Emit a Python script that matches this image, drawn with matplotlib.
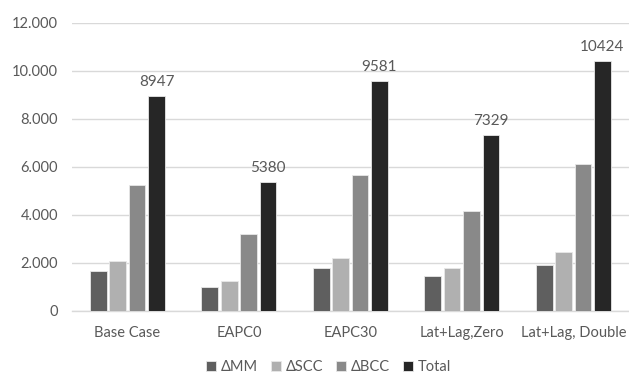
import matplotlib
matplotlib.use("Agg")
import matplotlib.pyplot as plt
import numpy as np

plt.rcParams['font.family'] = ['Lato', 'DejaVu Sans']

categories = ["Base Case", "EAPC0", "EAPC30", "Lat+Lag,Zero", "Lat+Lag, Double"]
series_names = ["ΔMM", "ΔSCC", "ΔBCC", "Total"]
d_mm = [1650, 970, 1760, 1420, 1890]
d_scc = [2050, 1220, 2180, 1760, 2440]
d_bcc = [5247, 3190, 5641, 4149, 6094]
total = [8947, 5380, 9581, 7329, 10424]
colors = ["#5f5f5f", "#b0b0b0", "#898989", "#262626"]
y_ticks = [0, 2000, 4000, 6000, 8000, 10000, 12000]
y_tick_labels = ["0", "2.000", "4.000", "6.000", "8.000", "10.000", "12.000"]

fig = plt.figure(figsize=(6.29, 3.75), dpi=100)
ax = fig.add_axes([0.114, 0.172, 0.886, 0.767])

x = np.arange(len(categories))
width = 0.15
pitch = 0.174
values = [d_mm, d_scc, d_bcc, total]
for i, (vals, name, c) in enumerate(zip(values, series_names, colors)):
    bars = ax.bar(x + (i - 1.5) * pitch, vals, width, color=c, label=name,
                  edgecolor="#e8e8e8", linewidth=0.6, zorder=3)
    if name == "Total":
        for b, v in zip(bars, vals):
            ax.annotate(f"{v}", (b.get_x() + b.get_width() / 2, v),
                        xytext=(0, 5), textcoords="offset points",
                        ha="center", va="bottom", fontsize=11, color="#595959")

ax.set_xlim(-0.5, len(categories) - 0.5)
ax.set_ylim(0, 12000)
ax.set_yticks(y_ticks)
ax.set_yticklabels(y_tick_labels)
ax.set_xticks(x)
ax.set_xticklabels(categories)
ax.tick_params(axis="both", length=0, labelsize=10.5, colors="#595959")
ax.tick_params(axis="x", pad=11)
ax.tick_params(axis="y", pad=10)
ax.grid(axis="y", color="#d9d9d9", linewidth=1, zorder=0)
for s in ["top", "right", "left"]:
    ax.spines[s].set_visible(False)
ax.spines["bottom"].set_color("#d9d9d9")
ax.spines["bottom"].set_linewidth(1)

leg = fig.legend(loc="center", bbox_to_anchor=(0.522, 0.021), ncol=4, frameon=False,
                 fontsize=10.5, handlelength=0.7, handleheight=0.7,
                 handletextpad=0.3, columnspacing=0.9)
for t in leg.get_texts():
    t.set_color("#595959")

fig.savefig("out.png", dpi=100)
